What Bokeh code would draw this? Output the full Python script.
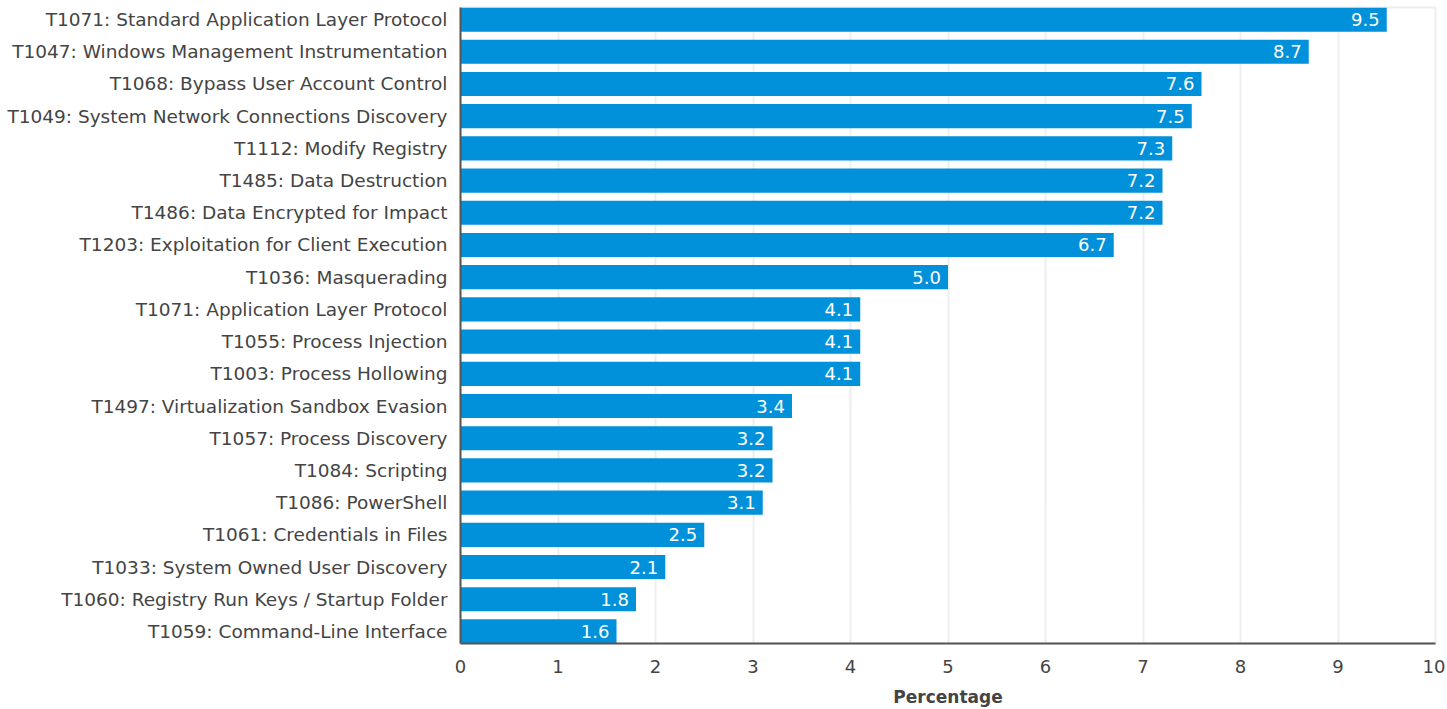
from bokeh.plotting import figure
from bokeh.models import ColumnDataSource, LabelSet, Range1d, FactorRange, FixedTicker
from bokeh.core.properties import value
from bokeh.embed import file_html
from bokeh.resources import INLINE

techniques = [
    "T1071: Standard Application Layer Protocol",
    "T1047: Windows Management Instrumentation",
    "T1068: Bypass User Account Control",
    "T1049: System Network Connections Discovery",
    "T1112: Modify Registry",
    "T1485: Data Destruction",
    "T1486: Data Encrypted for Impact",
    "T1203: Exploitation for Client Execution",
    "T1036: Masquerading",
    "T1071: Application Layer Protocol",
    "T1055: Process Injection",
    "T1003: Process Hollowing",
    "T1497: Virtualization Sandbox Evasion",
    "T1057: Process Discovery",
    "T1084: Scripting",
    "T1086: PowerShell",
    "T1061: Credentials in Files",
    "T1033: System Owned User Discovery",
    "T1060: Registry Run Keys / Startup Folder",
    "T1059: Command-Line Interface",
]
percentages = [9.5, 8.7, 7.6, 7.5, 7.3, 7.2, 7.2, 6.7, 5.0, 4.1,
               4.1, 4.1, 3.4, 3.2, 3.2, 3.1, 2.5, 2.1, 1.8, 1.6]
x_ticks = [0, 1, 2, 3, 4, 5, 6, 7, 8, 9, 10]

FONT = "DejaVu Sans"
TEXT = "#444444"
BAR = "#0091da"
BAR_HEIGHT = 0.75

source = ColumnDataSource(dict(
    technique=techniques,
    pct=percentages,
    label=[f"{v:.1f}" for v in percentages],
))

# negative padding so the outermost bars sit flush with the frame edges
y_pad = -(1 - BAR_HEIGHT) / len(techniques)

p = figure(
    frame_width=975, frame_height=636,
    y_range=FactorRange(*reversed(techniques), range_padding=y_pad),
    x_range=Range1d(0, 10),
    output_backend="svg", toolbar_location=None,
    min_border_left=460, min_border_right=10,
    min_border_top=7, min_border_bottom=60,
)

p.hbar(y="technique", left=0, right="pct", height=BAR_HEIGHT, source=source,
       fill_color=BAR, line_color=None)

labels = LabelSet(x="pct", y="technique", text="label", source=source,
                  x_offset=-7, text_align="right", text_baseline="middle",
                  text_color="white", text_font=value(FONT),
                  text_font_size="18px")
p.add_layout(labels)

p.outline_line_color = "#eeeeee"
p.outline_line_width = 2
p.ygrid.grid_line_color = None
p.xgrid.grid_line_color = "#eeeeee"
p.xgrid.grid_line_width = 2
p.xgrid.ticker = FixedTicker(ticks=x_ticks)

p.xaxis.ticker = FixedTicker(ticks=x_ticks)
p.xaxis.axis_label = "Percentage"
p.xaxis.axis_label_text_font = FONT
p.xaxis.axis_label_text_font_style = "bold"
p.xaxis.axis_label_text_font_size = "17px"
p.xaxis.axis_label_text_color = TEXT
p.xaxis.axis_label_standoff = 11

for ax in (p.xaxis, p.yaxis):
    ax.axis_line_color = "#555555"
    ax.axis_line_width = 2
    ax.major_tick_line_color = None
    ax.minor_tick_line_color = None
    ax.major_label_text_font = FONT
    ax.major_label_text_font_size = "18.5px"
    ax.major_label_text_color = TEXT

p.yaxis.major_label_standoff = 7
p.xaxis.major_label_text_font_size = "18px"
p.xaxis.major_label_standoff = 10

open("out.html", "w").write(file_html(p, INLINE))
